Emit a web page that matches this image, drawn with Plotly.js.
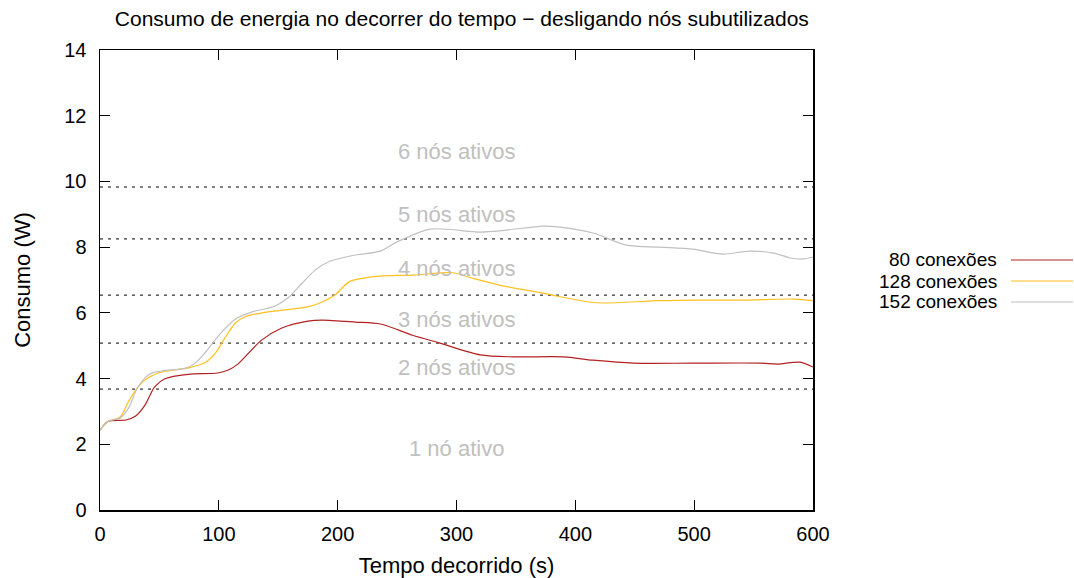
<!DOCTYPE html>
<html>
<head>
<meta charset="utf-8">
<script src="https://cdn.plot.ly/plotly-3.0.1.min.js"></script>
<style>html,body{margin:0;padding:0;background:#fff}#chart{width:1074px;height:578px}</style>
</head>
<body>
<div id="chart"></div>
<script>
// Series data
const seriesNames = ["80 conexões", "128 conexões", "152 conexões"];
const seriesColors = ["#b22222", "#ffc020", "#c0c0c0"];

const t80 = [0,7,22,30,38,46,55,74,99,108,116,136,153,175,187,215,236,263,286,320,348,390,415,449,499,556,570,589,600];
const v80 = [2.43,2.7,2.74,2.86,3.2,3.75,4.0,4.13,4.17,4.26,4.44,5.17,5.54,5.75,5.78,5.72,5.66,5.32,5.08,4.72,4.66,4.66,4.56,4.47,4.47,4.47,4.44,4.5,4.35];

const t128 = [0,7,17,24,30,38,49,63,77,88,97,105,114,122,141,175,187,198,210,236,264,297,314,342,376,387,412,424,471,505,541,584,600];
const v128 = [2.43,2.7,2.83,3.3,3.65,3.96,4.17,4.26,4.35,4.48,4.77,5.23,5.69,5.88,6.03,6.18,6.33,6.55,6.95,7.12,7.15,7.22,7.05,6.8,6.58,6.49,6.33,6.3,6.37,6.39,6.39,6.42,6.37];

const t152 = [0,7,17,24,32,42,52,72,80,88,99,114,128,147,158,170,181,192,215,236,250,278,320,342,373,387,415,443,471,499,524,547,567,581,592,600];
const v152 = [2.43,2.7,2.8,3.1,3.75,4.14,4.23,4.32,4.47,4.77,5.27,5.81,6.03,6.2,6.45,6.9,7.3,7.55,7.76,7.88,8.16,8.55,8.46,8.52,8.64,8.61,8.43,8.06,8.0,7.94,7.79,7.88,7.82,7.67,7.64,7.7];

// Threshold lines and region labels
const thresholds = [3.68, 5.08, 6.54, 8.25, 9.83];
const regionLabels = ["1 nó ativo", "2 nós ativos", "3 nós ativos", "4 nós ativos", "5 nós ativos", "6 nós ativos"];
const regionLabelY = [1.86, 4.35, 5.81, 7.36, 9.0, 10.9];
const regionLabelX = 300;

const xTicks = [0,100,200,300,400,500,600];
const yTicks = [0,2,4,6,8,10,12,14];

const FONT = "Liberation Sans, Arial, Helvetica, sans-serif";
const allT = [t80, t128, t152];
const allV = [v80, v128, v152];

const traces = allT.map((t, i) => ({
  x: t, y: allV[i], type: "scatter", mode: "lines", name: seriesNames[i],
  line: {color: seriesColors[i], width: 1.2, shape: "spline", smoothing: 0.8},
  showlegend: false, hoverinfo: "skip"
}));

const shapes = thresholds.map(y => ({
  type: "line", xref: "x", yref: "y", x0: 0, x1: 600, y0: y, y1: y,
  line: {color: "#000", width: 1, dash: "3px,5px"}, layer: "below"
}));

const annotations = regionLabels.map((txt, i) => ({
  x: regionLabelX, y: regionLabelY[i], xref: "x", yref: "y", text: txt,
  showarrow: false, font: {family: FONT, size: 22, color: "#c0c0c0"}
}));

// Custom legend (text right, sample line right of it)
const legY = [0.5435, 0.4978, 0.4522];
seriesNames.forEach((n, i) => {
  annotations.push({
    x: 1.2595, y: legY[i], xref: "paper", yref: "paper", text: n, showarrow: false,
    xanchor: "right", yanchor: "middle", font: {family: FONT, size: 19, color: "#000"},
    borderpad: 0
  });
  shapes.push({
    type: "line", xref: "paper", yref: "paper", x0: 1.2777, x1: 1.3647, y0: legY[i], y1: legY[i],
    line: {color: seriesColors[i], width: 1.2}
  });
});

const axisCommon = {
  showgrid: false, zeroline: false, showline: true, linecolor: "#000", linewidth: 1.5,
  mirror: "ticks", ticks: "inside", ticklen: 10, tickwidth: 1, tickcolor: "#000",
  tickfont: {family: FONT, size: 20, color: "#000"}
};

const layout = {
  width: 1074, height: 578,
  margin: {l: 100, r: 261, t: 50, b: 68, pad: 0},
  paper_bgcolor: "#fff", plot_bgcolor: "#fff",
  title: {text: "Consumo de energia no decorrer do tempo − desligando nós subutilizados",
          font: {family: FONT, size: 21, color: "#000"}, x: 0.43, xanchor: "center", y: 0.968, yanchor: "middle"},
  xaxis: Object.assign({}, axisCommon, {range: [0, 600], tickvals: xTicks, ticktext: xTicks.map(String),
    ticklabelstandoff: 5,
    title: {text: "Tempo decorrido (s)", font: {family: FONT, size: 22, color: "#000"}, standoff: 14}}),
  yaxis: Object.assign({}, axisCommon, {range: [0, 14], tickvals: yTicks, ticktext: yTicks.map(String),
    ticklabelstandoff: 8,
    title: {text: "Consumo (W)", font: {family: FONT, size: 22, color: "#000"}, standoff: 27}}),
  shapes: shapes, annotations: annotations, showlegend: false
};

Plotly.newPlot("chart", traces, layout, {displayModeBar: false, staticPlot: true});
</script>
</body>
</html>
